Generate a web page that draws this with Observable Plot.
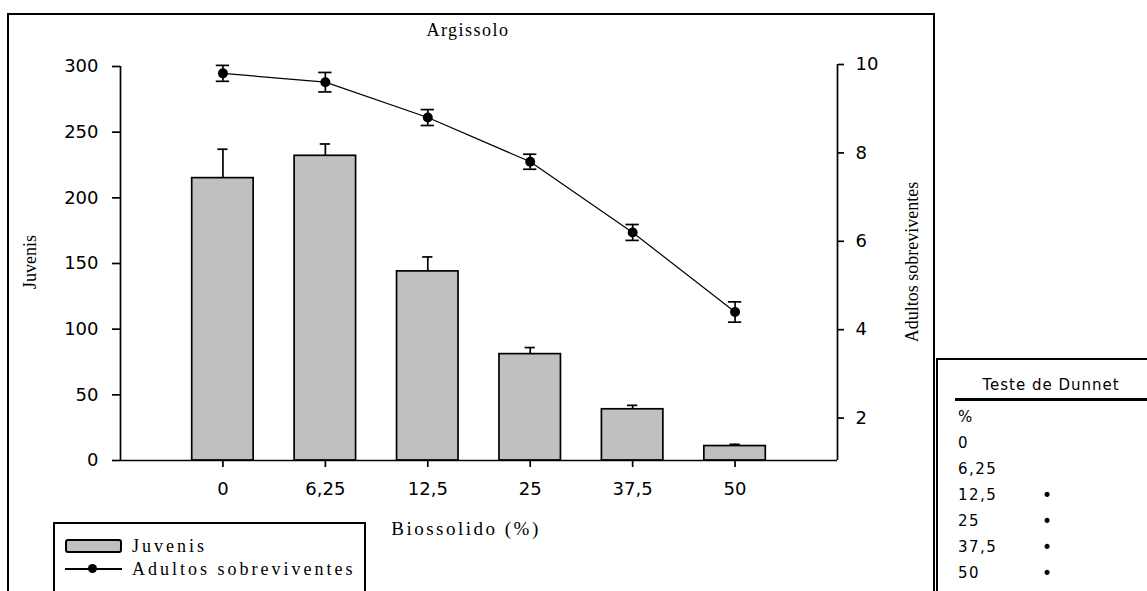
<!DOCTYPE html>
<html><head><meta charset="utf-8">
<script src="https://cdn.jsdelivr.net/npm/d3@7"></script>
<script src="https://cdn.jsdelivr.net/npm/@observablehq/plot@0.6"></script>
<style>
body{margin:0;background:#fff;}
#wrap{position:relative;width:1147px;height:591px;overflow:hidden;background:#fff;}
#wrap svg{position:absolute;left:0;top:0;}
.abs{position:absolute;white-space:nowrap;line-height:1;color:#000;}
</style></head><body><div id="wrap"></div>
<script>
// ---- data ----
const categories = ["0", "6,25", "12,5", "25", "37,5", "50"];
const juvenis = [215, 232, 144, 81, 39, 11];
const juvenisErr = [22, 9, 11, 5, 3, 1.3];
const adultos = [9.8, 9.6, 8.8, 7.8, 6.2, 4.4];
const adultosErr = [0.18, 0.22, 0.18, 0.17, 0.18, 0.23];
const leftTicks = [0, 50, 100, 150, 200, 250, 300];
const rightTicks = [2, 4, 6, 8, 10];
const dunnetRows = ["%", "0", "6,25", "12,5", "25", "37,5", "50"];
const dunnetMarks = ["", "", "", "•", "•", "•", "•"];

// secondary (right) axis mapped onto the left scale
const R_LO = 1.04, R_HI = 9.955, L_MAX = 300;
const toLeft = v => (v - R_LO) / (R_HI - R_LO) * L_MAX;
const fromLeft = y => R_LO + y / L_MAX * (R_HI - R_LO);

const rows = categories.map((c, i) => ({
  i, c, j: juvenis[i], je: juvenisErr[i], a: adultos[i], ae: adultosErr[i]
}));

const tickFont = {fontFamily: "DejaVu Sans", fontSize: 18};
const SW = 1.7;

const chart = Plot.plot({
  width: 1147, height: 591,
  marginLeft: 120, marginRight: 310, marginTop: 66, marginBottom: 131,
  x: {domain: [-1, 6], axis: null},
  y: {domain: [0, L_MAX], axis: null},
  style: {background: "transparent", color: "black", fontFamily: "DejaVu Sans"},
  marks: [
    // bars
    Plot.rectY(rows, {x1: d => d.i - 0.3, x2: d => d.i + 0.3, y1: 0, y2: "j",
      fill: "#c0c0c0", stroke: "black", strokeWidth: SW}),
    // bar error whiskers (upper)
    Plot.ruleX(rows, {x: "i", y1: "j", y2: d => d.j + d.je, stroke: "black", strokeWidth: SW}),
    Plot.ruleY(rows, {y: d => d.j + d.je, x1: d => d.i - 0.05, x2: d => d.i + 0.05, stroke: "black", strokeWidth: SW}),
    // line
    Plot.line(rows, {x: "i", y: d => toLeft(d.a), stroke: "black", strokeWidth: 1.2}),
    Plot.ruleX(rows, {x: "i", y1: d => toLeft(d.a - d.ae), y2: d => toLeft(d.a + d.ae), stroke: "black", strokeWidth: SW}),
    Plot.ruleY(rows, {y: d => toLeft(d.a + d.ae), x1: d => d.i - 0.065, x2: d => d.i + 0.065, stroke: "black", strokeWidth: SW}),
    Plot.ruleY(rows, {y: d => toLeft(d.a - d.ae), x1: d => d.i - 0.065, x2: d => d.i + 0.065, stroke: "black", strokeWidth: SW}),
    Plot.dot(rows, {x: "i", y: d => toLeft(d.a), r: 5, fill: "black"}),
    // axis lines
    Plot.ruleX([-1], {y1: 0, y2: L_MAX, stroke: "black", strokeWidth: SW}),
    Plot.ruleX([6], {y1: 0, y2: toLeft(10), stroke: "black", strokeWidth: SW}),
    Plot.ruleY([0], {x1: -1, x2: 6, stroke: "black", strokeWidth: SW}),
    // axes
    Plot.axisY(leftTicks, {anchor: "left", tickSize: 8, tickPadding: 14, label: null,
      strokeWidth: SW, ...tickFont}),
    Plot.axisY(rightTicks.map(toLeft), {anchor: "right", tickSize: 6, tickPadding: 12, label: null,
      tickFormat: d => String(Math.round(fromLeft(d))), strokeWidth: SW, ...tickFont}),
    Plot.axisX(d3.range(categories.length), {anchor: "bottom", tickSize: 7, tickPadding: 15, label: null,
      tickFormat: i => categories[i], strokeWidth: SW, ...tickFont})
  ]
});

const wrap = document.getElementById("wrap");
wrap.appendChild(chart);

function box(x, y, w, h, extra) {
  const d = document.createElement("div");
  d.className = "abs";
  Object.assign(d.style, {left: x + "px", top: y + "px", width: w + "px", height: h + "px",
    boxSizing: "border-box"}, extra || {});
  wrap.appendChild(d);
  return d;
}
function text(t, x, y, style, anchor, rot) {
  const d = document.createElement("div");
  d.className = "abs";
  d.textContent = t;
  const tx = anchor === "start" ? "0" : "-50%";
  d.style.left = x + "px";
  d.style.top = y + "px";
  d.style.transform = `translate(${tx},-50%)` + (rot ? ` rotate(${rot}deg)` : "");
  Object.assign(d.style, style);
  wrap.appendChild(d);
  return d;
}

const serif = {fontFamily: "'Liberation Serif', 'Times New Roman', serif", fontSize: "18px"};

// outer frame
box(7, 13, 928, 700, {border: "2px solid #000"});
// title & axis titles
text("Argissolo", 468, 30, {...serif, letterSpacing: "1.5px"});
text("Juvenis", 30, 262, serif, "mid", -90);
text("Adultos sobreviventes", 912, 262, serif, "mid", -90);
text("Biossolido (%)", 466, 528, {...serif, fontSize: "19px", letterSpacing: "2.5px"});

// legend
box(53, 522, 313, 200, {border: "2px solid #000", background: "#fff"});
box(65, 539, 57, 14, {border: "2px solid #000", background: "#c0c0c0", borderRadius: "3px"});
text("Juvenis", 132, 546, {...serif, letterSpacing: "3px"}, "start");
box(65, 568, 57, 1.6, {background: "#000"});
box(88, 564, 9, 9, {background: "#000", borderRadius: "50%"});
text("Adultos sobreviventes", 132, 569, {...serif, letterSpacing: "3px"}, "start");

// Dunnet table
box(936, 358, 300, 300, {border: "2px solid #000", background: "#fff"});
const mono = {fontFamily: "'DejaVu Sans'", fontSize: "15px", letterSpacing: "1px"};
text("Teste de Dunnet", 1051, 385, mono);
box(955, 398, 192, 3, {background: "#000"});
dunnetRows.forEach((r, k) => {
  const y = 417 + k * 26;
  text(r, 958, y, {...mono, letterSpacing: "1.5px"}, "start");
  if (dunnetMarks[k]) text(dunnetMarks[k], 1047, y, {fontFamily: "'DejaVu Sans'", fontSize: "17px"});
});
</script>
</body></html>
